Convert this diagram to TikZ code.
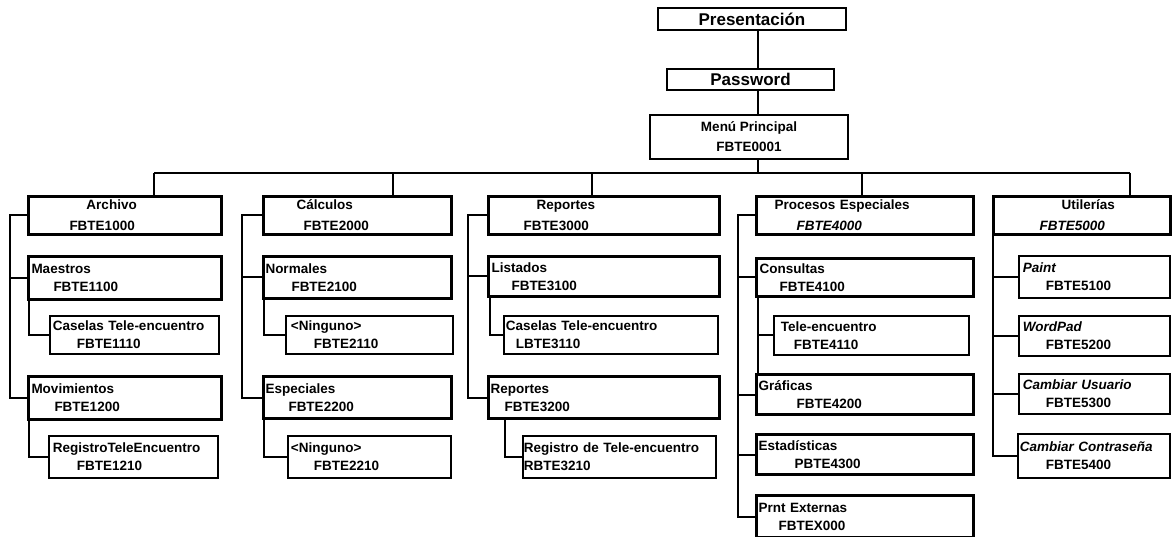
\documentclass[tikz,border=0pt]{standalone}
\usepackage{fontspec}
\setsansfont{Liberation Sans}
\usetikzlibrary{positioning}

\begin{document}
\begin{tikzpicture}[
  x=1pt, y=-1pt,
  font=\sffamily\bfseries\fontsize{13.5}{18}\selectfont,
  box/.style={draw, rectangle, anchor=north west, inner xsep=0pt, inner ysep=0pt, align=left},
  thickbox/.style={box, line width=3pt},
  thinbox/.style={box, line width=1.9pt},
  topbox/.style={draw, rectangle, anchor=north west, inner sep=0pt, align=center, line width=2pt},
  link/.style={line width=2pt}
]
\path[use as bounding box, fill=white] (0,0) rectangle (1173,537);

% top of the tree
\node[topbox, minimum width=188pt, minimum height=22pt, font=\sffamily\bfseries\fontsize{17}{20}\selectfont] (pres) at (657,7) {Presentación};
\node[topbox, minimum width=167pt, minimum height=21pt, font=\sffamily\bfseries\fontsize{17}{20}\selectfont] (pass) at (666,68) {Password};
\node[topbox, minimum width=198pt, minimum height=44pt, font=\sffamily\bfseries\fontsize{13.5}{20}\selectfont] (menu) at (649,114) {Menú Principal\\FBTE0001};

% first level
\node[thickbox, text width=193pt, minimum height=38pt] (archivo) at (27,195) {\hspace*{58pt}Archivo\\[3pt]\hspace*{41pt}FBTE1000};
\node[thickbox, text width=188pt, minimum height=38pt] (calculos) at (262,195) {\hspace*{33pt}Cálculos\\[3pt]\hspace*{40pt}FBTE2000};
\node[thickbox, text width=231pt, minimum height=38pt] (reportes) at (487,195) {\hspace*{48pt}Reportes\\[3pt]\hspace*{35pt}FBTE3000};
\node[thickbox, text width=217pt, minimum height=38pt] (procesos) at (755,195) {\hspace*{18pt}Procesos Especiales\\[3pt]\hspace*{40pt}\textit{FBTE4000}};
\node[thickbox, text width=177pt, minimum height=38pt] (utilerias) at (992,195) {\hspace*{68pt}Utilerías\\[3pt]\hspace*{46pt}\textit{FBTE5000}};

% Archivo
\node[thickbox, text width=193pt, minimum height=43pt] (maestros) at (27,255) {\hspace*{3pt}Maestros\\\hspace*{25pt}FBTE1100};
\node[thinbox, text width=169pt, minimum height=38pt] (caselasA) at (49,315) {\hspace*{3pt}Caselas Tele-encuentro\\\hspace*{27pt}FBTE1110};
\node[thickbox, text width=193pt, minimum height=43pt] (movim) at (27,375) {\hspace*{3pt}Movimientos\\\hspace*{26pt}FBTE1200};
\node[thinbox, text width=169pt, minimum height=42pt] (registroA) at (48,435) {\hspace*{4pt}RegistroTeleEncuentro\\\hspace*{28pt}FBTE1210};

% Calculos
\node[thickbox, text width=188pt, minimum height=42pt] (normales) at (262,255) {\hspace*{2pt}Normales\\\hspace*{28pt}FBTE2100};
\node[thinbox, text width=167pt, minimum height=38pt] (ningunoA) at (285,315) {\hspace*{5pt}<Ninguno>\\\hspace*{28pt}FBTE2110};
\node[thickbox, text width=188pt, minimum height=42pt] (especiales) at (262,375) {\hspace*{2pt}Especiales\\\hspace*{25pt}FBTE2200};
\node[thinbox, text width=163pt, minimum height=42pt] (ningunoB) at (287,435) {\hspace*{3pt}<Ninguno>\\\hspace*{26pt}FBTE2210};

% Reportes
\node[thickbox, text width=231pt, minimum height=40pt] (listados) at (487,255) {\hspace*{3pt}Listados\\\hspace*{23pt}FBTE3100};
\node[thinbox, text width=214pt, minimum height=38pt] (caselasC) at (503,315) {\hspace*{2pt}Caselas Tele-encuentro\\\hspace*{12pt}LBTE3110};
\node[thickbox, text width=231pt, minimum height=42pt] (repsub) at (487,375) {\hspace*{2pt}Reportes\\\hspace*{16pt}FBTE3200};
\node[thinbox, text width=193pt, minimum height=42pt] (registroC) at (522,435) {\hspace*{1pt}Registro de Tele-encuentro\\\hspace*{1pt}RBTE3210};

% Procesos Especiales
\node[thickbox, text width=217pt, minimum height=38pt] (consultas) at (755,257) {\hspace*{3pt}Consultas\\\hspace*{23pt}FBTE4100};
\node[thinbox, text width=195pt, minimum height=39pt] (teleD) at (773,315) {\hspace*{7pt}Tele-encuentro\\\hspace*{20pt}FBTE4110};
\node[thickbox, text width=217pt, minimum height=40pt] (graficas) at (755,373) {\hspace*{2pt}Gráficas\\\hspace*{40pt}FBTE4200};
\node[thickbox, text width=217pt, minimum height=40pt] (estad) at (755,433) {\hspace*{2pt}Estadísticas\\\hspace*{38pt}PBTE4300};
\node[thickbox, text width=217pt, minimum height=42pt] (prnt) at (755,494) {\hspace*{2pt}Prnt Externas\\\hspace*{22pt}FBTEX000};

% Utilerias
\node[thinbox, text width=151pt, minimum height=42pt] (paint) at (1018,255) {\hspace*{4pt}\textit{Paint}\\\hspace*{27pt}FBTE5100};
\node[thinbox, text width=151pt, minimum height=40pt] (wordpad) at (1018,315) {\hspace*{4pt}\textit{WordPad}\\\hspace*{27pt}FBTE5200};
\node[thinbox, text width=151pt, minimum height=40pt] (usuario) at (1018,373) {\hspace*{4pt}\textit{Cambiar Usuario}\\\hspace*{27pt}FBTE5300};
\node[thinbox, text width=152pt, minimum height=44pt] (contra) at (1017,433) {\hspace*{2pt}\textit{Cambiar Contraseña}\\\hspace*{28pt}FBTE5400};

% spine and bus
\coordinate (spine) at (758,0);
\coordinate (dA) at (154,173);
\coordinate (dB) at (393,173);
\coordinate (dC) at (592,173);
\coordinate (dD) at (862,173);
\coordinate (dE) at (1130,173);
\draw[link] (pres.south -| spine) -- (pass.north -| spine);
\draw[link] (pass.south -| spine) -- (menu.north -| spine);
\draw[link] (menu.south -| spine) -- (dA -| spine);
\draw[link] (dA) -- (dE);
\foreach \d/\n in {dA/archivo, dB/calculos, dC/reportes, dD/procesos, dE/utilerias}
  \draw[link] (\d) -- (\d |- \n.north);

% rails
\coordinate (railA) at (10,0);
\coordinate (railB) at (242,0);
\coordinate (railC) at (468,0);
\coordinate (railD) at (738,0);
\coordinate (railE) at (993,0);
\draw[link] (archivo.west) -- (archivo.west -| railA) |- (movim.west);
\draw[link] (maestros.west -| railA) -- (maestros.west);
\draw[link] (calculos.west) -- (calculos.west -| railB) |- (especiales.west);
\draw[link] (normales.west -| railB) -- (normales.west);
\draw[link] (reportes.west) -- (reportes.west -| railC) |- (repsub.west);
\draw[link] (listados.west -| railC) -- (listados.west);
\draw[link] (procesos.west) -- (procesos.west -| railD) |- (prnt.west);
\foreach \n in {consultas, graficas, estad}
  \draw[link] (\n.west -| railD) -- (\n.west);
\draw[link] (utilerias.south -| railE) |- (contra.west);
\foreach \n in {paint, wordpad, usuario}
  \draw[link] (\n.west -| railE) -- (\n.west);

% sub links
\coordinate (subA) at (29,0);
\coordinate (subB) at (264,0);
\coordinate (subC) at (490,0);
\coordinate (subR) at (505,0);
\coordinate (subD) at (758,0);
\draw[link] (maestros.south -| subA) |- (caselasA.west);
\draw[link] (movim.south -| subA) |- (registroA.west);
\draw[link] (normales.south -| subB) |- (ningunoA.west);
\draw[link] (especiales.south -| subB) |- (ningunoB.west);
\draw[link] (listados.south -| subC) |- (caselasC.west);
\draw[link] (repsub.south -| subR) |- (registroC.west);
\draw[link] (consultas.south -| subD) -- (graficas.north -| subD);
\draw[link] (teleD.west -| subD) -- (teleD.west);

\end{tikzpicture}
\end{document}
